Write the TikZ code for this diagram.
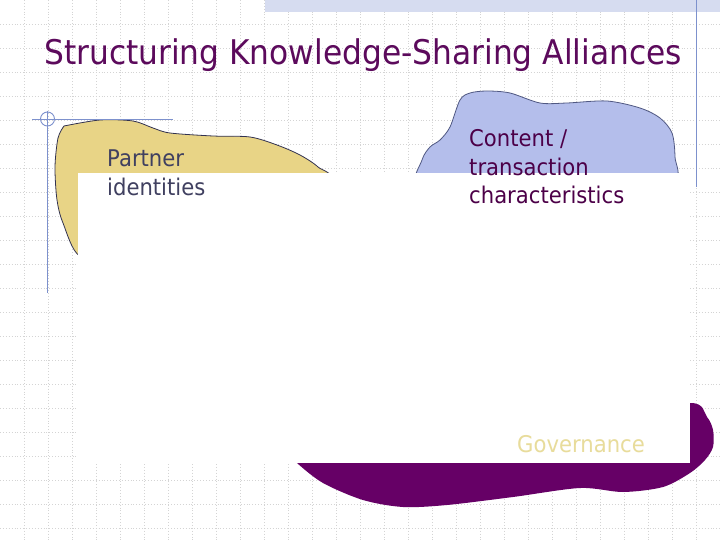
\documentclass[tikz,border=0pt]{standalone}
\usepackage{fontspec}
\newfontfamily\tah[FakeStretch=0.92]{DejaVu Sans}
\definecolor{gridc}{RGB}{212,212,212}
\definecolor{decoc}{RGB}{125,145,205}
\definecolor{hatchc}{RGB}{214,220,240}
\definecolor{yblob}{RGB}{232,212,134}
\definecolor{bblob}{RGB}{180,190,235}
\definecolor{pblob}{RGB}{102,0,102}
\definecolor{outl}{RGB}{50,50,80}
\definecolor{titlec}{RGB}{92,10,92}
\definecolor{partc}{RGB}{64,64,96}
\definecolor{contc}{RGB}{76,0,72}
\definecolor{govc}{RGB}{232,220,155}
\tikzset{
  gridline/.style={draw=gridc, line width=0.9pt, dotted},
  decoline/.style={draw=decoc, line width=0.9pt},
  blobline/.style={draw=outl, line width=0.8pt},
  label/.style={anchor=base west, inner sep=0pt, font=\tah\fontsize{23}{28.5}\selectfont}
}
\begin{document}
\begin{tikzpicture}[x=1pt,y=-1pt]
\useasboundingbox (0,0) rectangle (720,540);
\fill[white] (0,0) rectangle (720,540);
% grid
\foreach \i in {24,48,...,696} \draw[gridline] (\i,0) -- (\i,540);
\foreach \j in {24,48,...,528} \draw[gridline] (0,\j) -- (720,\j);
% top band
\fill[hatchc] (265,0) rectangle (720,12.5);
\draw[decoline] (696,0) -- (696,187);
% blobs
\draw[blobline, fill=yblob] plot[smooth, tension=0.5] coordinates {
  (64,126) (100,120) (133,121) (153,128) (170,133) (213,136) (250,137)
  (277,145) (300,155) (318,167) (328,182) (250,230) (120,250) (80,256)
  (63,223) (57,200) (55,167) (58,138) (64,126)} -- cycle;
\draw[blobline, draw=decoc!40!outl, fill=bblob] plot[smooth cycle, tension=0.5] coordinates {
  (417,190) (422,160) (430,147) (440,140) (450,127) (460,100) (470,93)
  (487,91) (510,93) (540,103) (567,103) (607,101) (640,108) (660,118)
  (672,133) (675,157) (673,185) (600,220) (480,220)};
\fill[pblob] plot[smooth cycle, tension=0.5] coordinates {
  (297,463) (323,483) (363,500) (403,507) (447,505) (513,497) (580,488)
  (623,492) (663,487) (690,473) (705,460) (713,447) (713,430) (707,417)
  (690,403) (600,420) (350,440) (292,455)};
% white panel
\fill[white] (78,173) rectangle (690,463);
% corner decoration
\draw[decoline] (32,119) -- (173,119);
\draw[decoline] (47.5,111) -- (47.5,293);
\draw[decoline] (47.5,119) circle (7);
% texts
\node[anchor=base west, inner sep=0pt, text=titlec, font=\tah\fontsize{34}{40}\selectfont] (title) at (44,65) {Structuring Knowledge-Sharing Alliances};
\node[label, text=partc] (partner) at (107,167) {\begin{tabular}[t]{@{}l@{}}Partner\\identities\end{tabular}};
\node[label, text=contc] (content) at (469,147) {\begin{tabular}[t]{@{}l@{}}Content /\\transaction\\characteristics\end{tabular}};
\node[label, text=govc] (gov) at (517,452) {Governance};
\end{tikzpicture}
\end{document}
